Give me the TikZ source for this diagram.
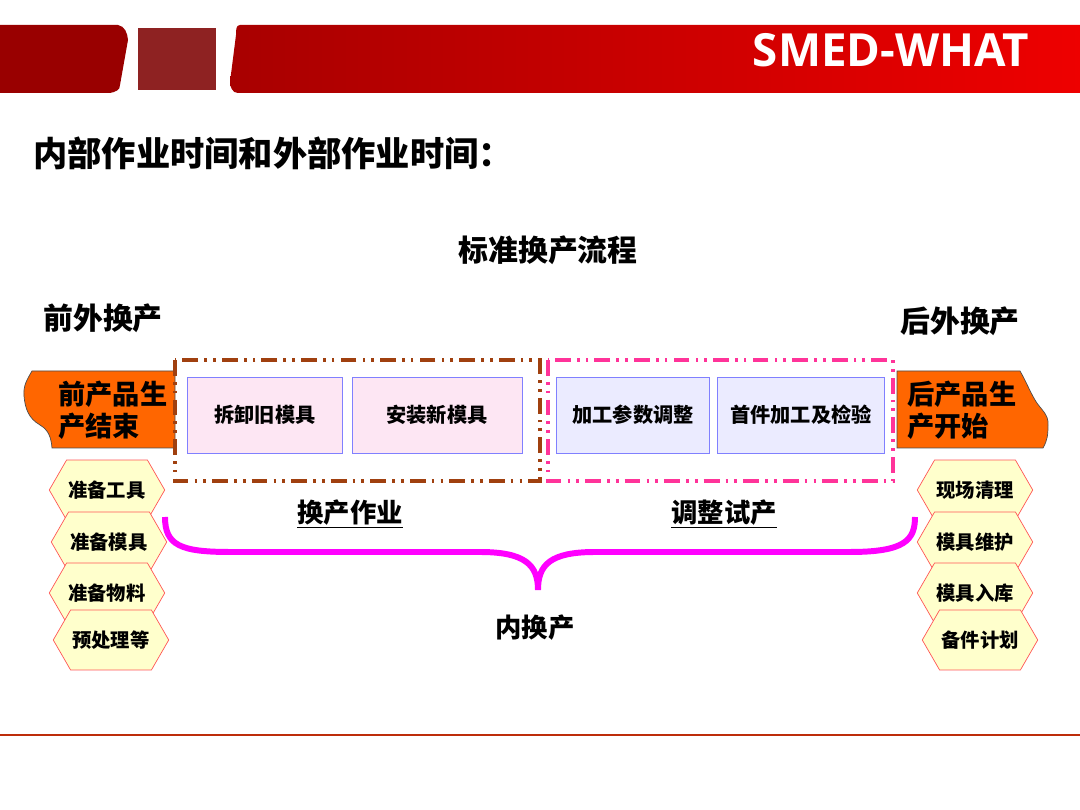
\documentclass[tikz,border=0pt]{standalone}
\usepackage{fontspec}
\setmainfont{Noto Sans CJK SC}
\newfontfamily\bannerfont{Open Sans}
\usetikzlibrary{shapes.symbols, positioning}
\definecolor{darkred}{HTML}{990000}
\definecolor{boxred}{HTML}{8E2222}
\definecolor{barleft}{HTML}{A80000}
\definecolor{barright}{HTML}{EE0000}
\definecolor{brownline}{HTML}{A0400F}
\definecolor{pinkline}{HTML}{FF3399}
\definecolor{orangefill}{HTML}{FF6600}
\definecolor{hexfill}{HTML}{FFFFCC}
\definecolor{hexline}{HTML}{FF5555}
\definecolor{stepline}{HTML}{8080FF}
\definecolor{braceline}{HTML}{FF00FF}

\begin{document}
\begin{tikzpicture}[x=0.02cm, y=-0.02cm]
\tikzstyle{heading} = [font=\bfseries\fontsize{17}{20}\selectfont, inner sep=0pt]
\tikzstyle{stepbox} = [rectangle, draw=stepline, minimum width=3.1cm, minimum height=1.52cm, font=\bfseries\fontsize{11.5}{13}\selectfont]
\tikzstyle{hexbox} = [signal, signal to=east and west, signal pointer angle=120, draw=hexline, fill=hexfill, minimum width=2.2cm, minimum height=1.2cm, inner sep=1pt, font=\bfseries\fontsize{11}{13}\selectfont]
\tikzstyle{frame} = [line width=2.2pt, dash pattern=on 9pt off 3.5pt on 1.5pt off 3.5pt on 1.5pt off 3.5pt]

\useasboundingbox (0,0) rectangle (1080,810);

% banner
\fill[darkred] (0,25) -- (118,25) to[out=-10,in=95] (128,40) -- (120,85) to[out=-85,in=10] (110,93) -- (0,93) -- cycle;
\fill[boxred] (138,28) rectangle (216,90);
\shade[left color=barleft, right color=barright] (240,25) -- (1080,25) -- (1080,93) -- (238,93) to[out=180,in=-90] (230,82) -- (236,35) to[out=90,in=180] cycle;
\node (banner) [text=white, font=\bannerfont\bfseries\fontsize{26}{28}\selectfont] at (891,50) {SMED-WHAT};

% titles
\node (title) [anchor=west, font=\bfseries\fontsize{19.5}{22}\selectfont, inner sep=0pt] at (33,153) {内部作业时间和外部作业时间：};
\node (std) [heading] at (548,250) {标准换产流程};
\node (preext) [heading] at (103,318) {前外换产};
\node (postext) [heading] at (960,321) {后外换产};

% orange end shapes
\fill[orangefill, draw=black!70] (32,371) -- (175,371) -- (175,448) -- (52,448) to[out=95,in=-30] (40,425) to[out=150,in=-85] (24,396) to[out=95,in=-120] cycle;
\node (prend) [anchor=west, align=left, font=\bfseries\fontsize{15.5}{18}\selectfont, inner sep=0pt] at (58,410) {前产品生\\产结束};
\fill[orangefill, draw=black!70] (897,371) -- (1020,371) to[out=-60,in=120] (1035,400) to[out=-60,in=85] (1048,425) to[out=-90,in=60] (1043,448) -- (897,448) -- cycle;
\node (prstart) [anchor=west, align=left, font=\bfseries\fontsize{15.5}{18}\selectfont, inner sep=0pt] at (907,410) {后产品生\\产开始};

% dashed frames
\draw[frame, brownline] (175,360) rectangle (540,481);
\draw[frame, pinkline] (548,360) rectangle (893,481);

% steps
\node (remove) [stepbox, fill=magenta!10] at (265,415) {拆卸旧模具};
\node (mount) [stepbox, fill=magenta!10, minimum width=3.4cm] at (437,415) {安装新模具};
\node (param) [stepbox, fill=blue!8, minimum width=3.06cm] at (633,415) {加工参数调整};
\node (check) [stepbox, fill=blue!8, minimum width=3.34cm] at (801,415) {首件加工及检验};

% group labels
\node (change) [heading, font=\bfseries\fontsize{15}{18}\selectfont] at (350,514) {\underline{换产作业}};
\node (adjust) [heading, font=\bfseries\fontsize{15}{18}\selectfont] at (724,514) {\underline{调整试产}};

% brace
\draw[braceline, line width=3.4pt] (165,517) .. controls (165,545) and (180,552) .. (230,552) -- (480,552) .. controls (525,552) and (538,565) .. (538,590) .. controls (538,565) and (550,552) .. (595,552) -- (850,552) .. controls (905,552) and (915,540) .. (915,517);
\node (internal) [heading, font=\bfseries\fontsize{15}{18}\selectfont] at (535,628) {内换产};

% hexagons
\node (tool) [hexbox] at (107,490) {准备工具};
\node (die) [hexbox] at (109,542) {准备模具};
\node (mat) [hexbox] at (107,593) {准备物料};
\node (pre) [hexbox] at (111,640) {预处理等};
\node (clean) [hexbox] at (975,490) {现场清理};
\node (maint) [hexbox] at (975,542) {模具维护};
\node (store) [hexbox] at (975,593) {模具入库};
\node (spare) [hexbox] at (980,640) {备件计划};

% footer line
\draw[color=brownline!70!red, line width=1.2pt] (0,735) -- (1080,735);
\end{tikzpicture}
\end{document}
